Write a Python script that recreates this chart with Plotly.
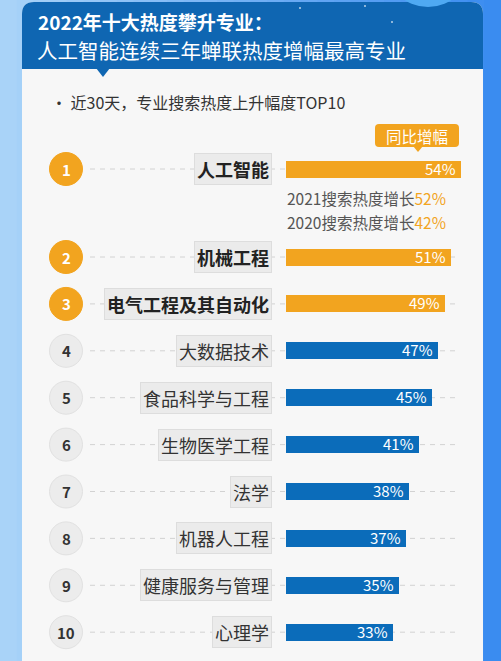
import plotly.graph_objects as go

# ---------------- data ----------------
majors = ["人工智能", "机械工程", "电气工程及其自动化", "大数据技术", "食品科学与工程",
          "生物医学工程", "法学", "机器人工程", "健康服务与管理", "心理学"]
growth = [54, 51, 49, 47, 45, 41, 38, 37, 35, 33]
ranks = [1, 2, 3, 4, 5, 6, 7, 8, 9, 10]
history_years = ["2021", "2020"]
history_growth = [52, 42]
title_line1 = "2022年十大热度攀升专业："
title_line2 = "人工智能连续三年蝉联热度增幅最高专业"
subtitle = "· 近30天，专业搜索热度上升幅度TOP10"
tag_text = "同比增幅"

# ---------------- layout helpers ----------------
W, H = 501, 661
FONT = "Noto Sans CJK SC"
ORANGE = "#f2a41f"
BLUE = "#0b6cba"
HEADER = "#0f66b2"
CARD = "#f7f7f7"

BAR_X0 = 286      # pixel where 0% sits
PX_PER = 3.24     # pixels per percent


def row_y(rank):
    return 169 if rank == 1 else 257 + (rank - 2) * 46.9


def P(x, y):
    return f"{x / W:.5f},{1 - y / H:.5f}"


def rrect(x0, y0, x1, y1, rt, rb=None):
    rb = rt if rb is None else rb
    return (f"M {P(x0 + rt, y0)} L {P(x1 - rt, y0)} Q {P(x1, y0)} {P(x1, y0 + rt)} "
            f"L {P(x1, y1 - rb)} Q {P(x1, y1)} {P(x1 - rb, y1)} "
            f"L {P(x0 + rb, y1)} Q {P(x0, y1)} {P(x0, y1 - rb)} "
            f"L {P(x0, y0 + rt)} Q {P(x0, y0)} {P(x0 + rt, y0)} Z")


def hex_mix(c1, c2, t):
    a = [int(c1[i:i + 2], 16) for i in (1, 3, 5)]
    b = [int(c2[i:i + 2], 16) for i in (1, 3, 5)]
    return "#" + "".join(f"{round(a[k] + (b[k] - a[k]) * t):02x}" for k in range(3))


shapes = []
# outer gradient background
N = 30
for i in range(N):
    shapes.append(dict(type="rect", xref="paper", yref="paper", layer="below",
                       x0=i / N, x1=(i + 1) / N + 0.002, y0=0, y1=1,
                       fillcolor=hex_mix("#a9d3f8", "#3a8cf0", i / (N - 1)), line_width=0))
# card body + header
shapes.append(dict(type="path", xref="paper", yref="paper", layer="below",
                   path=rrect(22, 2, 483, 700, 12, 0), fillcolor=CARD, line_width=0))
shapes.append(dict(type="path", xref="paper", yref="paper", layer="below",
                   path=rrect(22, 2, 483, 69, 12, 0), fillcolor=HEADER, line_width=0))
# header pointer
shapes.append(dict(type="path", xref="paper", yref="paper", layer="below",
                   path=f"M {P(96, 68)} L {P(110, 68)} L {P(103, 77)} Z",
                   fillcolor=HEADER, line_width=0))
# decorative blob top right
shapes.append(dict(type="circle", xref="paper", yref="paper", layer="below",
                   x0=(428 - 43) / W, x1=(428 + 43) / W, y0=1 - (-36 + 43) / H, y1=1 - (-36 - 43) / H,
                   fillcolor="#4fa9f2", line_width=0))
# small header stars
for sx, sy in [(300, 8), (365, 6), (392, 22)]:
    shapes.append(dict(type="circle", xref="paper", yref="paper", layer="below",
                       x0=(sx - 1) / W, x1=(sx + 1) / W, y0=1 - (sy + 1) / H, y1=1 - (sy - 1) / H,
                       fillcolor="rgba(255,255,255,0.7)", line_width=0))

# dashed guide lines and rank circles
for r in ranks:
    y = row_y(r)
    shapes.append(dict(type="line", xref="paper", yref="paper", layer="below",
                       x0=90 / W, x1=457 / W, y0=1 - y / H, y1=1 - y / H,
                       line=dict(color="#d2d2d2", width=1, dash="5px,5px")))
for r in ranks:
    y = row_y(r)
    top3 = r <= 3
    shapes.append(dict(type="circle", xref="paper", yref="paper", layer="below",
                       x0=(66 - 16.5) / W, x1=(66 + 16.5) / W,
                       y0=1 - (y + 16.5) / H, y1=1 - (y - 16.5) / H,
                       fillcolor=ORANGE if top3 else "#ececec",
                       line=dict(color=ORANGE if top3 else "#e1e1e1", width=1)))

# "同比增幅" tag
shapes.append(dict(type="path", xref="paper", yref="paper", layer="above",
                   path=rrect(375, 124, 459, 147, 4), fillcolor=ORANGE, line_width=0))
shapes.append(dict(type="path", xref="paper", yref="paper", layer="above",
                   path=f"M {P(413, 146)} L {P(423, 146)} L {P(418, 152)} Z",
                   fillcolor=ORANGE, line_width=0))

# ---------------- bars ----------------
ypos = [row_y(r) for r in ranks]
colors = [ORANGE if r <= 3 else BLUE for r in ranks]
fig = go.Figure(go.Bar(
    x=growth, y=ypos, orientation="h", width=17,
    marker=dict(color=colors, line_width=0),
    hoverinfo="skip", cliponaxis=False,
))

annotations = []
annotations.append(dict(xref="paper", yref="paper", x=36 / W, y=1 - 22 / H, xanchor="left", yanchor="middle",
                        text=f"<b>{title_line1}</b>", showarrow=False,
                        font=dict(family=FONT, size=19, color="white")))
annotations.append(dict(xref="paper", yref="paper", x=35 / W, y=1 - 50 / H, xanchor="left", yanchor="middle",
                        text=title_line2, showarrow=False,
                        font=dict(family=FONT, size=20.5, color="white")))
annotations.append(dict(xref="paper", yref="paper", x=49 / W, y=1 - 102 / H, xanchor="left", yanchor="middle",
                        text=subtitle, showarrow=False,
                        font=dict(family=FONT, size=16, color="#333333")))
annotations.append(dict(xref="paper", yref="paper", x=417 / W, y=1 - 135.5 / H, xanchor="center", yanchor="middle",
                        text=tag_text, showarrow=False,
                        font=dict(family=FONT, size=15.5, color="white")))

for r, name, v, y in zip(ranks, majors, growth, ypos):
    top3 = r <= 3
    # value label inside bar end
    annotations.append(dict(xref="x", yref="y", x=v, y=y, xanchor="right", yanchor="middle",
                            xshift=-3, yshift=1, text=f"{v}%", showarrow=False,
                            font=dict(family=FONT, size=15, color="white")))
    annotations.append(dict(xref="paper", yref="paper", x=66 / W, y=1 - y / H, xanchor="center", yanchor="middle",
                            text=f"<b>{r}</b>", showarrow=False,
                            font=dict(family=FONT, size=15, color="white" if top3 else "#333333")))
    annotations.append(dict(xref="paper", yref="paper", x=272 / W, y=1 - y / H, xanchor="right", yanchor="middle",
                            text=f"<b>{name}</b>" if top3 else name, showarrow=False,
                            bgcolor="#ebebeb", bordercolor="#dddddd", borderwidth=1, borderpad=2,
                            font=dict(family=FONT, size=18, color="#222222" if top3 else "#333333")))

for i, (yr, v) in enumerate(zip(history_years, history_growth)):
    y = 198 + i * 24.5
    annotations.append(dict(xref="paper", yref="paper", x=285 / W, y=1 - y / H, xanchor="left", yanchor="middle",
                            text=f"{yr}搜索热度增长<span style='color:{ORANGE}'>{v}%</span>", showarrow=False,
                            font=dict(family=FONT, size=15.5, color="#555555")))

fig.update_layout(
    width=W, height=H, margin=dict(l=0, r=0, t=0, b=0),
    paper_bgcolor=CARD, plot_bgcolor="rgba(0,0,0,0)",
    showlegend=False, shapes=shapes, annotations=annotations,
    font=dict(family=FONT),
    xaxis=dict(range=[-BAR_X0 / PX_PER, (W - BAR_X0) / PX_PER], visible=False, fixedrange=True),
    yaxis=dict(range=[H, 0], visible=False, fixedrange=True),
    bargap=0,
)

fig.write_html("out.html", config={"displayModeBar": False})
